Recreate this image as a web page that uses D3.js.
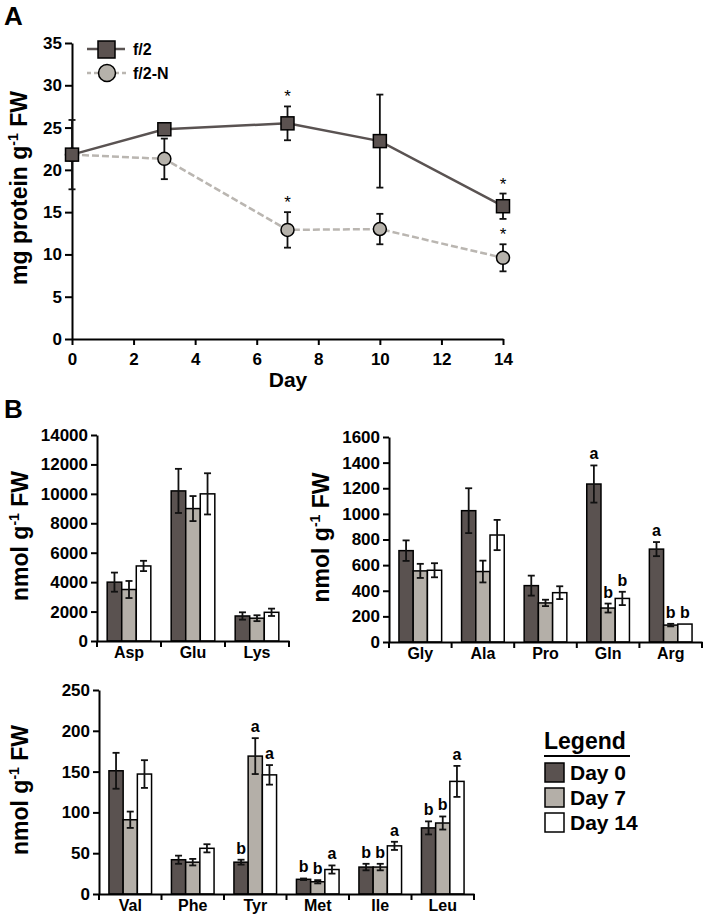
<!DOCTYPE html>
<html>
<head>
<meta charset="utf-8">
<script src="https://cdn.jsdelivr.net/npm/d3@7"></script>
<style>
  body { margin: 0; background: #fff; }
  text { font-family: "Liberation Sans", Arial, sans-serif; }
  .axis path, .axis line { stroke: #000; stroke-width: 2; }
  .axis text { font-family: "Liberation Sans", Arial, sans-serif; font-size: 17px; font-weight: bold; fill: #000; }
  .axis.cat text { font-size: 16px; }
</style>
</head>
<body>
<div id="chart"></div>
<script>
// panel A data
var days = [0, 3, 7, 10, 14];
var f2Mean = [21.8, 24.8, 25.5, 23.4, 15.7];
var f2Err = [4.1, 0.4, 2.0, 5.5, 1.5];
var f2Sig = ["", "", "*", "", "*"];
var f2nMean = [21.8, 21.3, 12.9, 13.0, 9.6];
var f2nErr = [0.3, 2.4, 2.1, 1.8, 1.6];
var f2nSig = ["", "", "*", "", "*"];
var aTicksY = [0, 5, 10, 15, 20, 25, 30, 35];
var aTicksX = [0, 2, 4, 6, 8, 10, 12, 14];

// panel B data
var groups = ["Day 0", "Day 7", "Day 14"];

var cats1 = ["Asp", "Glu", "Lys"];
var mean1 = [[4000, 3500, 5100], [10200, 9000, 10000], [1700, 1550, 1950]];
var err1 = [[650, 580, 350], [1500, 850, 1400], [250, 200, 250]];
var sig1 = [["", "", ""], ["", "", ""], ["", "", ""]];
var ticks1 = [0, 2000, 4000, 6000, 8000, 10000, 12000, 14000];

var cats2 = ["Gly", "Ala", "Pro", "Gln", "Arg"];
var mean2 = [[713, 555, 560], [1025, 550, 835], [440, 305, 385], [1233, 265, 340], [725, 132, 140]];
var err2 = [[80, 55, 55], [175, 85, 118], [78, 25, 50], [145, 35, 52], [55, 10, 0]];
var sig2 = [["", "", ""], ["", "", ""], ["", "", ""], ["a", "b", "b"], ["a", "b", "b"]];
var ticks2 = [0, 200, 400, 600, 800, 1000, 1200, 1400, 1600];

var cats3 = ["Val", "Phe", "Tyr", "Met", "Ile", "Leu"];
var mean3 = [[151, 91, 147], [42, 39, 56], [39, 169, 146], [18, 15, 30], [33, 33, 59], [81, 87, 138]];
var err3 = [[22, 10, 17], [5, 4, 5], [3, 22, 12], [1, 2, 5], [4, 4, 5], [8, 8, 19]];
var sig3 = [["", "", ""], ["", "", ""], ["b", "a", "a"], ["b", "b", "a"], ["b", "b", "a"], ["b", "b", "a"]];
var ticks3 = [0, 50, 100, 150, 200, 250];

var barColor = d3.scaleOrdinal().domain(groups).range(["#5a5250", "#b4afa8", "#ffffff"]);

var svg = d3.select("#chart").append("svg")
    .attr("width", 710)
    .attr("height", 919);

// ---------- panel A ----------
var ax = d3.scaleLinear().domain([0, 14]).range([72, 503]);
var ay = d3.scaleLinear().domain([0, 35]).range([339, 43]);

svg.append("text").attr("x", 4).attr("y", 25)
    .attr("font-size", 26).attr("font-weight", "bold").text("A");

svg.append("g").attr("class", "axis")
    .attr("transform", "translate(72,0)")
    .call(d3.axisLeft(ay).tickValues(aTicksY).tickSize(7).tickSizeOuter(0).tickPadding(3));
svg.append("g").attr("class", "axis")
    .attr("transform", "translate(0,339)")
    .call(d3.axisBottom(ax).tickValues(aTicksX).tickSize(6).tickSizeOuter(0).tickPadding(8));

svg.append("text").attr("x", 288).attr("y", 387)
    .attr("text-anchor", "middle").attr("font-size", 21).attr("font-weight", "bold").text("Day");

function yLabel(x, y, first) {
    var t = svg.append("text")
        .attr("transform", "translate(" + x + "," + y + ") rotate(-90)")
        .attr("text-anchor", "middle")
        .attr("font-size", 23)
        .attr("font-weight", "bold");
    t.append("tspan").text(first + " g");
    t.append("tspan").attr("font-size", 14).attr("dy", -9).text("-1");
    t.append("tspan").attr("dy", 9).text(" FW");
}
yLabel(27, 188, "mg protein");

function drawSeries(mean, err, sig, lineColor, dash, marker, fill) {
    var pts = days.map(function(d, i) { return { x: d, m: mean[i], e: err[i], s: sig[i] }; });
    var g = svg.append("g");
    g.append("path")
        .datum(pts)
        .attr("fill", "none")
        .attr("stroke", lineColor)
        .attr("stroke-width", 2.5)
        .attr("stroke-dasharray", dash)
        .attr("d", d3.line().x(function(d) { return ax(d.x); }).y(function(d) { return ay(d.m); }));
    var eb = g.selectAll(".eb").data(pts).enter().append("g").attr("stroke", "#111").attr("stroke-width", 1.8);
    eb.append("line")
        .attr("x1", function(d) { return ax(d.x); }).attr("x2", function(d) { return ax(d.x); })
        .attr("y1", function(d) { return ay(d.m + d.e); }).attr("y2", function(d) { return ay(d.m - d.e); });
    eb.append("line")
        .attr("x1", function(d) { return ax(d.x) - 3.5; }).attr("x2", function(d) { return ax(d.x) + 3.5; })
        .attr("y1", function(d) { return ay(d.m + d.e); }).attr("y2", function(d) { return ay(d.m + d.e); });
    eb.append("line")
        .attr("x1", function(d) { return ax(d.x) - 3.5; }).attr("x2", function(d) { return ax(d.x) + 3.5; })
        .attr("y1", function(d) { return ay(d.m - d.e); }).attr("y2", function(d) { return ay(d.m - d.e); });
    if (marker == "square") {
        g.selectAll(".mk").data(pts).enter().append("rect")
            .attr("x", function(d) { return ax(d.x) - 6.5; })
            .attr("y", function(d) { return ay(d.m) - 6.5; })
            .attr("width", 13).attr("height", 13)
            .attr("fill", fill).attr("stroke", "#000").attr("stroke-width", 1.5);
    } else {
        g.selectAll(".mk").data(pts).enter().append("circle")
            .attr("cx", function(d) { return ax(d.x); })
            .attr("cy", function(d) { return ay(d.m); })
            .attr("r", 6.5)
            .attr("fill", fill).attr("stroke", "#000").attr("stroke-width", 1.5);
    }
    g.selectAll(".sig").data(pts.filter(function(d) { return d.s; })).enter().append("text")
        .attr("x", function(d) { return ax(d.x); })
        .attr("y", function(d) { return ay(d.m + d.e) - 4; })
        .attr("text-anchor", "middle")
        .attr("font-size", 17)
        .text(function(d) { return d.s; });
}
drawSeries(f2nMean, f2nErr, f2nSig, "#bab6b1", "7,3", "circle", "#b6b2ab");
drawSeries(f2Mean, f2Err, f2Sig, "#5a5352", null, "square", "#5b5250");

// legend A
var lg = svg.append("g");
lg.append("line").attr("x1", 87).attr("x2", 125).attr("y1", 49).attr("y2", 49)
    .attr("stroke", "#5a5352").attr("stroke-width", 2.5);
lg.append("rect").attr("x", 98).attr("y", 41).attr("width", 17).attr("height", 17)
    .attr("fill", "#5b5250").attr("stroke", "#000").attr("stroke-width", 1.5);
lg.append("line").attr("x1", 87).attr("x2", 127).attr("y1", 73).attr("y2", 73)
    .attr("stroke", "#bab6b1").attr("stroke-width", 2.5).attr("stroke-dasharray", "4,3");
lg.append("circle").attr("cx", 107).attr("cy", 73).attr("r", 8.5)
    .attr("fill", "#b6b2ab").attr("stroke", "#000").attr("stroke-width", 1.5);
lg.append("text").attr("x", 133).attr("y", 55).attr("font-size", 16).attr("font-weight", "bold").text("f/2");
lg.append("text").attr("x", 133).attr("y", 79).attr("font-size", 16).attr("font-weight", "bold").text("f/2-N");

// ---------- panel B ----------
svg.append("text").attr("x", 4).attr("y", 418)
    .attr("font-size", 26).attr("font-weight", "bold").text("B");

function drawBars(cats, mean, err, sig, ticks, x0, x1, yTop, yBot, labelX) {
    var x = d3.scaleBand().domain(cats).range([x0, x1]);
    var xi = d3.scaleBand().domain(groups).range([0, x.bandwidth()]).paddingOuter(0.7);
    var y = d3.scaleLinear().domain([0, d3.max(ticks)]).range([yBot, yTop]);
    var g = svg.append("g");

    var rows = [];
    cats.forEach(function(c, i) {
        groups.forEach(function(k, j) {
            rows.push({ c: c, k: k, m: mean[i][j], e: err[i][j], s: sig[i][j] });
        });
    });

    g.selectAll("rect").data(rows).enter().append("rect")
        .attr("x", function(d) { return x(d.c) + xi(d.k); })
        .attr("y", function(d) { return y(d.m); })
        .attr("width", xi.bandwidth())
        .attr("height", function(d) { return yBot - y(d.m); })
        .attr("fill", function(d) { return barColor(d.k); })
        .attr("stroke", "#000")
        .attr("stroke-width", 1.5);

    var eb = g.selectAll(".eb").data(rows.filter(function(d) { return d.e > 0; })).enter().append("g")
        .attr("stroke", "#111").attr("stroke-width", 1.8);
    function cx(d) { return x(d.c) + xi(d.k) + xi.bandwidth() / 2; }
    eb.append("line").attr("x1", cx).attr("x2", cx)
        .attr("y1", function(d) { return y(d.m + d.e); }).attr("y2", function(d) { return y(d.m - d.e); });
    eb.append("line")
        .attr("x1", function(d) { return cx(d) - 3.5; }).attr("x2", function(d) { return cx(d) + 3.5; })
        .attr("y1", function(d) { return y(d.m + d.e); }).attr("y2", function(d) { return y(d.m + d.e); });
    eb.append("line")
        .attr("x1", function(d) { return cx(d) - 3.5; }).attr("x2", function(d) { return cx(d) + 3.5; })
        .attr("y1", function(d) { return y(d.m - d.e); }).attr("y2", function(d) { return y(d.m - d.e); });

    g.selectAll(".sig").data(rows.filter(function(d) { return d.s; })).enter().append("text")
        .attr("x", cx)
        .attr("y", function(d) { return y(d.m + d.e) - 6; })
        .attr("text-anchor", "middle")
        .attr("font-size", 16)
        .attr("font-weight", "bold")
        .text(function(d) { return d.s; });

    g.append("g").attr("class", "axis")
        .attr("transform", "translate(" + x0 + ",0)")
        .call(d3.axisLeft(y).tickValues(ticks).tickFormat(d3.format("d"))
            .tickSize(6).tickSizeOuter(0).tickPadding(3));

    var xa = g.append("g").attr("class", "axis cat")
        .attr("transform", "translate(0," + yBot + ")")
        .call(d3.axisBottom(x).tickSize(0).tickSizeOuter(0).tickPadding(17));
    xa.selectAll(".tick text").attr("dy", 0);
    var bounds = cats.map(function(c) { return x(c); }).concat([x1]);
    xa.selectAll(".bnd").data(bounds).enter().append("line")
        .attr("x1", function(d) { return d; }).attr("x2", function(d) { return d; })
        .attr("y1", 0).attr("y2", 6);

    yLabel(labelX, (yTop + yBot) / 2 - 2, "nmol");
}

drawBars(cats1, mean1, err1, sig1, ticks1, 97, 289, 435, 641, 28);
drawBars(cats2, mean2, err2, sig2, ticks2, 389, 702, 437, 642, 329);
drawBars(cats3, mean3, err3, sig3, ticks3, 99, 474, 690, 894, 28);

// legend B
var lb = svg.append("g");
lb.append("text").attr("x", 544).attr("y", 749).attr("font-size", 23).attr("font-weight", "bold").text("Legend");
lb.append("line").attr("x1", 544).attr("x2", 630).attr("y1", 756).attr("y2", 756)
    .attr("stroke", "#000").attr("stroke-width", 2);
var li = lb.selectAll(".li").data(groups).enter().append("g")
    .attr("transform", function(d, i) { return "translate(545," + (763 + i * 25) + ")"; });
li.append("rect").attr("width", 19).attr("height", 19)
    .attr("fill", function(d) { return barColor(d); })
    .attr("stroke", "#000").attr("stroke-width", 1.5);
li.append("text").attr("x", 25).attr("y", 17).attr("font-size", 21).attr("font-weight", "bold")
    .text(function(d) { return d; });
</script>
</body>
</html>
